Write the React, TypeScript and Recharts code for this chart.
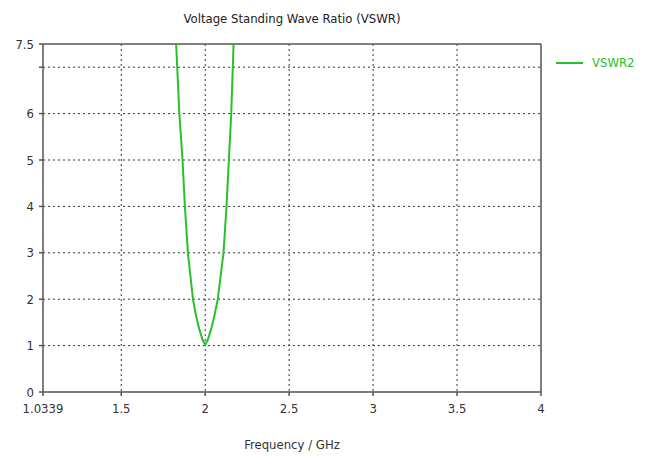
import React from "react";
import {
  LineChart,
  Line,
  XAxis,
  YAxis,
  CartesianGrid,
  ReferenceLine,
} from "recharts";

const freqGHz = [1.8, 1.827, 1.846, 1.865, 1.879, 1.897, 1.927, 1.945, 1.965, 1.985, 2.0, 2.015, 2.035, 2.055, 2.075, 2.109, 2.127, 2.141, 2.155, 2.169, 2.19];
const vswr2 = [8.5, 7.5, 6, 5, 4, 3, 2, 1.65, 1.35, 1.12, 1.02, 1.12, 1.35, 1.65, 2, 3, 4, 5, 6, 7.5, 8.5];
const xTicks = [1.0339, 1.5, 2, 2.5, 3, 3.5, 4];
const yTicks = [0, 1, 2, 3, 4, 5, 6, 7, 7.5];
const seriesName = "VSWR2";

const data = freqGHz.map((f, i) => ({ f, v: vswr2[i] }));

const FONT = '"DejaVu Sans Condensed", "Liberation Sans Narrow", "Liberation Sans", sans-serif';
const GREEN = "#2cbf2c";
const AXIS = "#555555";

export default function App() {
  return (
    <div style={{ position: "absolute", left: 0, top: 0, width: 648, height: 457, background: "#fff" }}>
      <div
        style={{
          position: "absolute",
          left: 0,
          top: 11,
          width: 584,
          textAlign: "center",
          fontFamily: FONT,
          fontSize: 13,
          color: "#222",
        }}
      >
        Voltage Standing Wave Ratio (VSWR)
      </div>
      <div
        style={{
          position: "absolute",
          left: 556,
          top: 55,
          display: "flex",
          alignItems: "center",
          fontFamily: FONT,
          fontSize: 13,
          color: GREEN,
        }}
      >
        <svg width={28} height={4} style={{ marginRight: 8 }}>
          <line x1={0} y1={2} x2={27} y2={2} stroke={GREEN} strokeWidth={2} />
        </svg>
        <span>{seriesName}</span>
      </div>
      <LineChart width={648} height={457} data={data} margin={{ top: 44, right: 107, bottom: 15, left: 0 }}>
        <CartesianGrid stroke="#333" strokeDasharray="2 3" horizontalValues={[1, 2, 3, 4, 5, 6, 7]} verticalValues={[1.5, 2, 2.5, 3, 3.5]} />
        <XAxis
          dataKey="f"
          type="number"
          domain={[1.0339, 4]}
          ticks={xTicks}
          allowDataOverflow
          height={50}
          tickSize={4}
          tickMargin={8}
          stroke={AXIS}
          strokeWidth={1.5}
          tick={{ fill: "#333", fontFamily: FONT, fontSize: 13 }}
          tickFormatter={(v: number) => String(v)}
          label={{ value: "Frequency / GHz", position: "insideBottom", offset: -7, fill: "#333", fontFamily: FONT, fontSize: 13 }}
        />
        <YAxis
          type="number"
          domain={[0, 7.5]}
          ticks={yTicks}
          allowDataOverflow
          width={43}
          tickSize={4}
          tickMargin={5}
          stroke={AXIS}
          strokeWidth={1.5}
          tick={{ fill: "#333", fontFamily: FONT, fontSize: 13 }}
          tickFormatter={(v: number) => (v === 7 ? "" : String(v))}
        />
        <ReferenceLine y={7.5} stroke={AXIS} strokeWidth={1.5} />
        <ReferenceLine x={4} stroke={AXIS} strokeWidth={1.5} />
        <Line
          type="linear"
          dataKey="v"
          name={seriesName}
          stroke={GREEN}
          strokeWidth={2}
          dot={false}
          isAnimationActive={false}
        />
      </LineChart>
    </div>
  );
}
